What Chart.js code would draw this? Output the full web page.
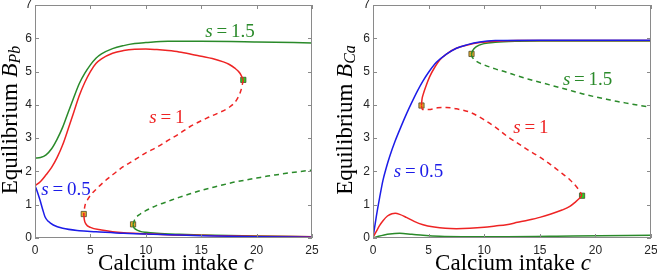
<!DOCTYPE html>
<html>
<head>
<meta charset="utf-8">
<script src="https://cdn.jsdelivr.net/npm/chart.js@4/dist/chart.umd.min.js"></script>
<style>
  body { margin: 0; background: #fff; }
  .wrap { position: relative; width: 657px; height: 278px; }
  canvas { position: absolute; top: 0; }
  #pb { left: 0; }
  #ca { left: 329px; }
</style>
</head>
<body>
<div class="wrap">
  <canvas id="pb" width="328" height="278"></canvas>
  <canvas id="ca" width="328" height="278"></canvas>
</div>
<script>
// Eixos
const cTicks = [0, 5, 10, 15, 20, 25];
const bTicks = [0, 1, 2, 3, 4, 5, 6, 7];

// ---- B_Pb (esquerda) ----
const pbGreenUpC = [0, 0.5, 1, 1.5, 2, 2.5, 3, 3.5, 4, 4.5, 5, 5.5, 6, 7, 8, 9, 10, 12, 15, 20, 25];
const pbGreenUpB = [2.40, 2.42, 2.5, 2.68, 2.97, 3.33, 3.78, 4.22, 4.64, 4.95, 5.2, 5.4, 5.53, 5.69, 5.78, 5.84, 5.87, 5.91, 5.91, 5.89, 5.86];

const pbRedUpC = [0, 0.5, 1, 1.5, 2, 2.5, 3, 3.5, 4, 4.5, 5, 5.5, 6, 7, 8, 9, 10, 11, 12, 13, 14, 15, 16, 17, 17.5, 18, 18.5, 18.8];
const pbRedUpB = [1.57, 1.7, 1.9, 2.12, 2.42, 2.8, 3.28, 3.78, 4.28, 4.68, 5.0, 5.24, 5.38, 5.55, 5.63, 5.67, 5.68, 5.66, 5.63, 5.59, 5.53, 5.46, 5.39, 5.29, 5.22, 5.11, 4.95, 4.75];

const pbRedDashC = [18.8, 18.6, 18.2, 17.5, 16.5, 15.5, 14, 13, 12, 11, 10, 9, 8, 7, 6, 5.5, 5, 4.7, 4.5, 4.4];
const pbRedDashB = [4.75, 4.45, 4.15, 3.92, 3.75, 3.6, 3.35, 3.13, 2.93, 2.73, 2.56, 2.35, 2.15, 1.9, 1.62, 1.46, 1.28, 1.12, 0.96, 0.72];

const pbRedLowC = [4.4, 4.45, 4.6, 5, 6, 7, 8, 10, 12, 15, 20, 25];
const pbRedLowB = [0.72, 0.55, 0.42, 0.32, 0.24, 0.19, 0.16, 0.13, 0.1, 0.08, 0.05, 0.04];

const pbBlueC = [0, 0.2, 0.45, 0.7, 0.9, 1.2, 1.65, 2.5, 4, 5.5, 8, 12, 15, 20, 25];
const pbBlueB = [1.57, 1.4, 1.14, 0.85, 0.64, 0.5, 0.39, 0.29, 0.22, 0.19, 0.14, 0.1, 0.07, 0.04, 0.02];

const pbGreenLowC = [8.85, 8.9, 9.1, 9.5, 10, 11, 13, 15, 20, 25];
const pbGreenLowB = [0.41, 0.33, 0.26, 0.2, 0.17, 0.14, 0.11, 0.09, 0.06, 0.04];

const pbGreenDashC = [8.85, 9, 9.5, 10, 11, 12, 13, 14, 15, 16, 17, 18, 19, 20, 21, 22, 23, 24, 25];
const pbGreenDashB = [0.41, 0.55, 0.72, 0.82, 0.98, 1.1, 1.22, 1.33, 1.43, 1.52, 1.6, 1.68, 1.74, 1.8, 1.86, 1.91, 1.96, 2.0, 2.04];

const pbFoldLowC = [4.4, 8.85];
const pbFoldLowB = [0.72, 0.41];
const pbFoldHighC = [18.8];
const pbFoldHighB = [4.75];

// ---- B_Ca (direita) ----
const caBlueC = [0, 0.3, 0.6, 0.9, 1.2, 1.5, 2, 2.5, 3, 3.5, 4, 4.5, 5, 5.7, 6.5, 7.5, 8.5, 9.6, 11, 15, 25];
const caBlueB = [0, 0.65, 1.22, 1.74, 2.12, 2.45, 2.92, 3.33, 3.72, 4.08, 4.42, 4.72, 4.98, 5.28, 5.5, 5.7, 5.81, 5.89, 5.93, 5.94, 5.94];

const caRedUpC = [4.36, 4.4, 4.5, 4.8, 5.1, 5.5, 6, 6.7, 7.5, 8.5, 9.6, 11, 13, 25];
const caRedUpB = [3.98, 4.15, 4.3, 4.6, 4.85, 5.1, 5.35, 5.55, 5.7, 5.8, 5.87, 5.91, 5.93, 5.93];

const caRedDashC = [4.36, 4.45, 5, 5.8, 6.6, 7.5, 8.7, 10, 11, 12, 13, 14, 15, 16, 17, 17.7, 18.3, 18.6, 18.8];
const caRedDashB = [3.97, 3.86, 3.86, 3.91, 3.92, 3.88, 3.78, 3.55, 3.33, 3.07, 2.85, 2.63, 2.43, 2.2, 1.94, 1.75, 1.54, 1.4, 1.28];

const caRedLowC = [0, 0.3, 0.6, 0.9, 1.3, 1.7, 2.0, 2.4, 3.0, 3.7, 4.5, 5.5, 6.5, 7.5, 8.7, 10, 11, 12, 13, 14, 15, 16, 17, 17.7, 18.2, 18.6, 18.8];
const caRedLowB = [0.02, 0.2, 0.38, 0.52, 0.66, 0.73, 0.74, 0.71, 0.62, 0.5, 0.4, 0.33, 0.29, 0.28, 0.29, 0.32, 0.36, 0.4, 0.47, 0.54, 0.62, 0.72, 0.84, 0.95, 1.08, 1.2, 1.28];

const caGreenLowC = [0, 0.5, 1, 1.5, 2.4, 3.5, 4.5, 6, 8, 12, 18, 25];
const caGreenLowB = [0, 0.05, 0.09, 0.12, 0.14, 0.11, 0.08, 0.05, 0.04, 0.04, 0.06, 0.08];

const caGreenUpC = [8.85, 8.95, 9.3, 10, 11, 13, 15, 25];
const caGreenUpB = [5.52, 5.62, 5.75, 5.84, 5.88, 5.91, 5.92, 5.92];

const caGreenDashC = [8.85, 8.9, 9, 9.5, 10, 11, 12, 13, 14, 15, 16, 17, 18, 19, 20, 21, 22, 23, 24, 25];
const caGreenDashB = [5.52, 5.45, 5.4, 5.27, 5.2, 5.08, 4.98, 4.87, 4.77, 4.68, 4.59, 4.5, 4.41, 4.32, 4.24, 4.17, 4.1, 4.04, 3.98, 3.93];

const caFoldLowC = [4.36, 8.86];
const caFoldLowB = [3.98, 5.53];
const caFoldHighC = [18.8];
const caFoldHighB = [1.27];

const RED = '#ee2424';
const BLUE = '#1c1ce8';
const GREEN = '#2a8a2a';
const SERIF = '"Liberation Serif"';

function pts(cs, bs) {
  return cs.map((c, i) => ({ x: c, y: bs[i] }));
}

function curve(cs, bs, color, dashed) {
  return {
    data: pts(cs, bs),
    showLine: true,
    borderColor: color,
    borderWidth: 1.5,
    borderDash: dashed ? [5, 4] : [],
    pointRadius: 0,
    cubicInterpolationMode: 'monotone',
    fill: false
  };
}

function folds(cs, bs, color) {
  return {
    data: pts(cs, bs),
    showLine: false,
    pointStyle: 'rect',
    pointRadius: 3.7,
    pointBackgroundColor: color,
    pointBorderColor: '#4a4a2a',
    pointBorderWidth: 0.8
  };
}

function drawRich(ctx, parts, cxMid, cy, color) {
  let w = 0;
  parts.forEach(p => { ctx.font = p[1]; w += ctx.measureText(p[0]).width; });
  let cx = cxMid - w / 2;
  ctx.fillStyle = color;
  ctx.textBaseline = 'middle';
  ctx.textAlign = 'left';
  parts.forEach(p => {
    ctx.font = p[1];
    ctx.fillText(p[0], cx, cy + (p[2] || 0));
    cx += ctx.measureText(p[0]).width;
  });
}

// moldura estilo MATLAB, ticks para dentro, textos
const framePlugin = {
  id: 'frame',
  afterDraw(chart, args, opts) {
    const { ctx, chartArea: a, scales: { x, y } } = chart;
    ctx.save();
    ctx.strokeStyle = '#8a8a8a';
    ctx.lineWidth = 1;
    ctx.strokeRect(Math.round(a.left) + 0.5, Math.round(a.top) + 0.5,
      Math.round(a.width) - 1, Math.round(a.height) - 1);
    ctx.beginPath();
    cTicks.forEach(v => {
      const px = Math.round(x.getPixelForValue(v)) + 0.5;
      ctx.moveTo(px, a.bottom); ctx.lineTo(px, a.bottom - 4);
      ctx.moveTo(px, a.top); ctx.lineTo(px, a.top + 4);
    });
    bTicks.forEach(v => {
      const py = Math.round(y.getPixelForValue(v)) + 0.5;
      ctx.moveTo(a.left, py); ctx.lineTo(a.left + 4, py);
      ctx.moveTo(a.right, py); ctx.lineTo(a.right - 4, py);
    });
    ctx.stroke();

    // notas s = ...
    opts.notes.forEach(n => {
      drawRich(ctx, [['s', 'italic 19px ' + SERIF], ['\u2009=\u2009' + n.s, '19px ' + SERIF]],
        x.getPixelForValue(n.c), y.getPixelForValue(n.b), n.color);
    });

    // titulo x
    drawRich(ctx, [['Calcium intake ', '23px ' + SERIF], ['c', 'italic 23px ' + SERIF]],
      opts.xTitle[0], opts.xTitle[1], '#000');

    // titulo y (girado)
    ctx.save();
    ctx.translate(opts.yTitle[0], opts.yTitle[1]);
    ctx.rotate(-Math.PI / 2);
    drawRich(ctx, [['Equilibrium ', '23px ' + SERIF], ['B', 'italic 23px ' + SERIF], [opts.sub, 'italic 16px ' + SERIF, 5]],
      0, 0, '#000');
    ctx.restore();
    ctx.restore();
  }
};

function makeOptions(yWidth, rightPad, plug) {
  return {
    responsive: false,
    animation: false,
    devicePixelRatio: 1,
    layout: { padding: { left: 0, right: rightPad, top: 5, bottom: 0 } },
    plugins: { legend: { display: false }, tooltip: { enabled: false }, frame: plug },
    scales: {
      x: {
        type: 'linear', min: 0, max: 25,
        afterFit: s => { s.height = 40; s.paddingLeft = 0; s.paddingRight = 0; },
        afterBuildTicks: s => { s.ticks = cTicks.map(v => ({ value: v })); },
        grid: { display: false, drawTicks: false },
        border: { display: false },
        ticks: { padding: 5, color: '#262626', font: { family: '"Liberation Sans"', size: 12 }, maxRotation: 0 }
      },
      y: {
        type: 'linear', min: 0, max: 7,
        afterFit: s => { s.width = yWidth; s.paddingTop = 0; s.paddingBottom = 0; },
        afterBuildTicks: s => { s.ticks = bTicks.map(v => ({ value: v })); },
        grid: { display: false, drawTicks: false },
        border: { display: false },
        ticks: { padding: 3, color: '#262626', font: { family: '"Liberation Sans"', size: 12 } }
      }
    }
  };
}

const pbChart = new Chart(document.getElementById('pb'), {
  type: 'scatter',
  data: {
    datasets: [
      curve(pbBlueC, pbBlueB, BLUE, false),
      curve(pbRedLowC, pbRedLowB, RED, false),
      curve(pbGreenLowC, pbGreenLowB, GREEN, false),
      curve(pbGreenDashC, pbGreenDashB, GREEN, true),
      curve(pbRedDashC, pbRedDashB, RED, true),
      curve(pbRedUpC, pbRedUpB, RED, false),
      curve(pbGreenUpC, pbGreenUpB, GREEN, false),
      folds(pbFoldLowC, pbFoldLowB, '#e8a82a'),
      folds(pbFoldHighC, pbFoldHighB, '#22d622')
    ]
  },
  options: makeOptions(35, 16, {
    sub: 'Pb',
    xTitle: [176, 264],
    yTitle: [11, 120],
    notes: [
      { c: 17.6, b: 6.19, s: '1.5', color: GREEN },
      { c: 11.9, b: 3.6, s: '1', color: RED },
      { c: 2.8, b: 1.44, s: '0.5', color: BLUE }
    ]
  }),
  plugins: [framePlugin]
});

const caChart = new Chart(document.getElementById('ca'), {
  type: 'scatter',
  data: {
    datasets: [
      curve(caGreenLowC, caGreenLowB, GREEN, false),
      curve(caRedLowC, caRedLowB, RED, false),
      curve(caRedDashC, caRedDashB, RED, true),
      curve(caGreenDashC, caGreenDashB, GREEN, true),
      curve(caBlueC, caBlueB, BLUE, false),
      curve(caRedUpC, caRedUpB, RED, false),
      curve(caGreenUpC, caGreenUpB, GREEN, false),
      folds(caFoldLowC, caFoldLowB, '#e8a82a'),
      folds(caFoldHighC, caFoldHighB, '#22d622')
    ]
  },
  options: makeOptions(44, 6, {
    sub: 'Ca',
    xTitle: [184, 264],
    yTitle: [17, 120],
    notes: [
      { c: 19.3, b: 4.74, s: '1.5', color: GREEN },
      { c: 14.2, b: 3.3, s: '1', color: RED },
      { c: 4.1, b: 1.98, s: '0.5', color: BLUE }
    ]
  }),
  plugins: [framePlugin]
});
</script>
</body>
</html>
